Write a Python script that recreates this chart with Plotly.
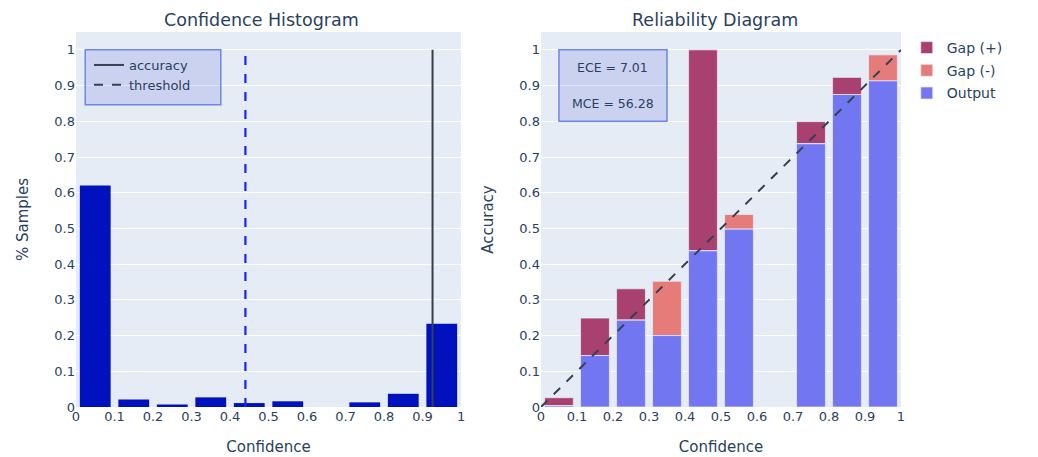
import plotly.graph_objects as go
from plotly.subplots import make_subplots

# ---- data ----
bin_centers = [0.05, 0.15, 0.25, 0.35, 0.45, 0.55, 0.65, 0.75, 0.85, 0.95]
hist_share = [0.62, 0.021, 0.007, 0.027, 0.011, 0.016, 0.0, 0.013, 0.037, 0.233]
accuracy_mark = 0.926
threshold_mark = 0.44

output_acc = [0.004, 0.144, 0.243, 0.200, 0.4372, 0.498, 0.0, 0.737, 0.875, 0.913]
gap_values = [0.022, 0.105, 0.088, -0.152, 0.5628, -0.041, 0.0, 0.062, 0.048, -0.073]
ece_value = 7.01
mce_value = 56.28

x_ticks = [0, 0.1, 0.2, 0.3, 0.4, 0.5, 0.6, 0.7, 0.8, 0.9, 1]
y_ticks = [0, 0.1, 0.2, 0.3, 0.4, 0.5, 0.6, 0.7, 0.8, 0.9, 1]

# ---- styles ----
HIST_COLOR = "#0011be"
OUT_COLOR = "#7276f1"
GAP_POS_COLOR = "#a8416f"
GAP_NEG_COLOR = "#e57c7a"
DARK = "#37404f"
TEXT = "#2a3f5f"
FONT = "DejaVu Sans"
BOX_FILL = "rgba(100,110,220,0.2)"
BOX_LINE = "#6d86e8"

# page body has an 8px margin, so the figure is offset by 8px inside the window
W, H = 1030, 449
ML, MR, MT, MB = 68, 137, 24, 50
left_dom = [0.0, 0.4667]
right_dom = [0.5636, 1.0]
Y_MAX = 1.05

fig = make_subplots(rows=1, cols=2,
                    subplot_titles=("Confidence Histogram", "Reliability Diagram"))
fig.layout.xaxis.domain = left_dom
fig.layout.xaxis2.domain = right_dom

# ---- left: histogram ----
fig.add_trace(go.Bar(x=bin_centers, y=hist_share, width=0.08,
                     marker=dict(color=HIST_COLOR, line=dict(width=0)),
                     showlegend=False), row=1, col=1)
fig.add_trace(go.Scatter(x=[threshold_mark, threshold_mark], y=[0, 1], mode="lines",
                         line=dict(color="#1525ff", width=2.2, dash="dash"),
                         showlegend=False), row=1, col=1)
fig.add_trace(go.Scatter(x=[accuracy_mark, accuracy_mark], y=[0, 1], mode="lines",
                         line=dict(color=DARK, width=2),
                         showlegend=False), row=1, col=1)
# legend entries for left panel
fig.add_trace(go.Scatter(x=[None], y=[None], mode="lines", name="accuracy",
                         line=dict(color=DARK, width=2), legend="legend2"), row=1, col=1)
fig.add_trace(go.Scatter(x=[None], y=[None], mode="lines", name="threshold",
                         line=dict(color=DARK, width=2, dash="dash"), legend="legend2"), row=1, col=1)
# box behind the left legend
fig.add_shape(type="rect", x0=0.024, x1=0.376, y0=0.846, y1=1.0, xref="x", yref="y",
              fillcolor=BOX_FILL, line=dict(color=BOX_LINE, width=1.5), layer="above")

# ---- right: reliability ----
gap_pos = [g if g > 0 else 0 for g in gap_values]
gap_neg = [-g if g < 0 else 0 for g in gap_values]
bar_line = dict(color="rgba(235,238,250,0.7)", width=1)
fig.add_trace(go.Bar(x=bin_centers, y=gap_pos, base=output_acc, width=0.08, name="Gap (+)",
                     legendgroup="g1", marker=dict(color=GAP_POS_COLOR, line=bar_line),
                     legendrank=1), row=1, col=2)
fig.add_trace(go.Bar(x=bin_centers, y=gap_neg, base=output_acc, width=0.08, name="Gap (-)",
                     legendgroup="g2", marker=dict(color=GAP_NEG_COLOR, line=bar_line),
                     legendrank=2), row=1, col=2)
fig.add_trace(go.Bar(x=bin_centers, y=output_acc, width=0.08, name="Output",
                     legendgroup="g3", marker=dict(color=OUT_COLOR, line=bar_line),
                     legendrank=3), row=1, col=2)
fig.add_trace(go.Scatter(x=[0, 1], y=[0, 1], mode="lines",
                         line=dict(color=DARK, width=2, dash="dash"),
                         showlegend=False), row=1, col=2)

# ECE / MCE box
fig.add_shape(type="rect", x0=0.05, x1=0.35, y0=0.8, y1=1.0, xref="x2", yref="y2",
              fillcolor=BOX_FILL, line=dict(color=BOX_LINE, width=1.5), layer="above")
fig.add_annotation(x=0.2, y=0.95, xref="x2", yref="y2", showarrow=False,
                   text=f"ECE = {ece_value:.2f}",
                   font=dict(size=12.5, color=TEXT, family=FONT))
fig.add_annotation(x=0.2, y=0.85, xref="x2", yref="y2", showarrow=False,
                   text=f"MCE = {mce_value:.2f}",
                   font=dict(size=12.5, color=TEXT, family=FONT))

axis_common = dict(range=[0, 1], tickvals=x_ticks, ticktext=[f"{t:g}" for t in x_ticks],
                   tickfont=dict(size=13), showgrid=False, zeroline=False, automargin=False,
                   title=dict(text="Confidence", font=dict(size=15), standoff=18))
fig.update_xaxes(**axis_common)
fig.update_yaxes(range=[0, Y_MAX], tickvals=y_ticks, ticktext=[f"{t:g}" for t in y_ticks],
                 tickfont=dict(size=13), gridcolor="white", zeroline=False, automargin=False)
fig.update_yaxes(title=dict(text="% Samples", font=dict(size=15), standoff=22), row=1, col=1)
fig.update_yaxes(title=dict(text="Accuracy", font=dict(size=15), standoff=22), row=1, col=2)

for ann in fig.layout.annotations[:2]:
    ann.font = dict(size=17.5, color=TEXT, family=FONT)

plot_w = W - ML - MR
fig.update_layout(
    width=W, height=H,
    margin=dict(l=ML, r=MR, t=MT, b=MB, autoexpand=False),
    template="plotly",
    font=dict(family=FONT, color=TEXT),
    barmode="overlay",
    paper_bgcolor="white",
    plot_bgcolor="#E5ECF6",
    legend=dict(x=1.007, y=1.0, xanchor="left", yanchor="top", font=dict(size=14),
                bgcolor="rgba(0,0,0,0)", tracegroupgap=1.5),
    legend2=dict(x=13.0 / plot_w, y=0.952,
                 xanchor="left", yanchor="top", font=dict(size=13),
                 bgcolor="rgba(0,0,0,0)", borderwidth=0),
)

fig.write_html("out.html")
